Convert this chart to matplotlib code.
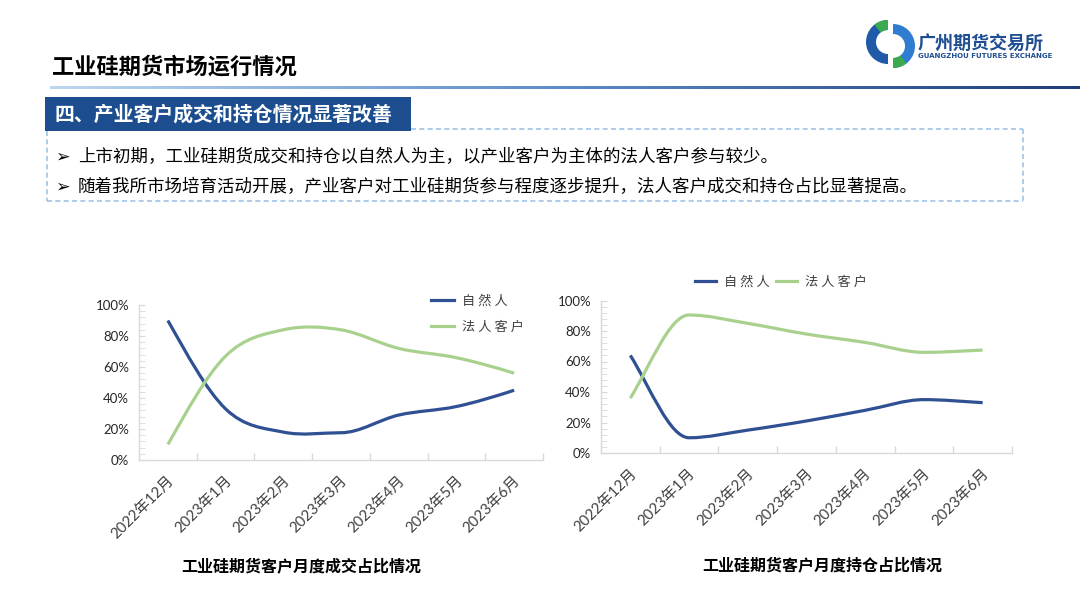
import numpy as np
import matplotlib
matplotlib.use('Agg')
import matplotlib.pyplot as plt
from matplotlib.path import Path
from matplotlib.patches import PathPatch, Rectangle, Wedge
from matplotlib.lines import Line2D
from matplotlib.colors import LinearSegmentedColormap
import matplotlib.transforms as mtransforms

plt.rcParams['font.family'] = ['Noto Sans CJK SC', 'DejaVu Sans']

# ---------------- data ----------------
categories = ['2022年12月', '2023年1月', '2023年2月', '2023年3月',
              '2023年4月', '2023年5月', '2023年6月']
trade_natural = [90, 33, 18, 17.6, 29, 34.5, 45]
trade_institutional = [10, 67, 84, 84, 72, 66, 56]
hold_natural = [64, 10, 15, 21, 28, 35, 33]
hold_institutional = [36, 90.5, 85, 78, 72.5, 66, 67.5]
series_names = ['自 然 人', '法 人 客 户']
yticks = [0, 20, 40, 60, 80, 100]
ytick_labels = ['0%', '20%', '40%', '60%', '80%', '100%']

header_title = '工业硅期货市场运行情况'
section_title = '四、产业客户成交和持仓情况显著改善'
bullets = ['上市初期，工业硅期货成交和持仓以自然人为主，以产业客户为主体的法人客户参与较少。',
           '随着我所市场培育活动开展，产业客户对工业硅期货参与程度逐步提升，法人客户成交和持仓占比显著提高。']
chart_titles = ['工业硅期货客户月度成交占比情况', '工业硅期货客户月度持仓占比情况']
logo_cn = '广州期货交易所'
logo_en = 'GUANGZHOU FUTURES EXCHANGE'

BLUE = '#2F5093'
GREEN = '#A9D18E'
AXIS_GRAY = '#D9D9D9'

W, H = 1080, 604
def fx(x): return x / W
def fy(y): return 1 - y / H

fig = plt.figure(figsize=(10.8, 6.04), dpi=100)


def smooth_path(vals, k=0.5, e=1.15):
    """Smoothed line through the category points (cubic Bezier segments)."""
    y = np.asarray(vals, dtype=float)
    n = len(y)
    d = np.diff(y)
    m = np.zeros(n)
    for i in range(1, n - 1):
        if d[i - 1] * d[i] < 0:
            m[i] = 0.0
        else:
            m[i] = k * (y[i + 1] - y[i - 1])
    m[0] = e * d[0]
    m[-1] = e * d[-1]
    verts = [(0.0, y[0])]
    codes = [Path.MOVETO]
    for i in range(n - 1):
        verts += [(i + 1 / 3, y[i] + m[i] / 3),
                  (i + 2 / 3, y[i + 1] - m[i + 1] / 3),
                  (i + 1.0, y[i + 1])]
        codes += [Path.CURVE4] * 3
    return Path(verts, codes)


def setup_axes(ax):
    ax.set_xlim(-0.5, len(categories) - 0.5)
    ax.set_ylim(0, 100)
    for s in ['top', 'right']:
        ax.spines[s].set_visible(False)
    for s in ['left', 'bottom']:
        ax.spines[s].set_color(AXIS_GRAY)
        ax.spines[s].set_linewidth(1.0)
    ax.set_yticks(yticks)
    ax.set_yticklabels(ytick_labels)
    ax.set_yticks(np.arange(0, 101, 4), minor=True)
    ax.tick_params(axis='y', which='both', direction='in', length=4,
                   color=AXIS_GRAY, pad=7, labelsize=9.5, labelcolor='#262626')
    for lab in ax.get_yticklabels():
        lab.set_fontfamily(['Lato', 'DejaVu Sans'])
    xs = np.arange(len(categories))
    ax.set_xticks(xs)
    ax.set_xticklabels(categories)
    ax.set_xticks(np.arange(0.5, len(categories), 1.0), minor=True)
    ax.tick_params(axis='x', which='major', length=0, pad=13,
                   labelsize=10.8, labelcolor='#404040')
    ax.tick_params(axis='x', which='minor', direction='in', length=5,
                   color=AXIS_GRAY, width=1)
    offset = mtransforms.ScaledTranslation(4 / 100, 0, fig.dpi_scale_trans)
    for lab in ax.get_xticklabels():
        lab.set_rotation(45)
        lab.set_ha('right')
        lab.set_va('center')
        lab.set_rotation_mode('anchor')
        lab.set_fontfamily(['Lato', 'Noto Sans CJK SC'])
        lab.set_transform(lab.get_transform() + offset)


def draw_series(ax, natural, institutional):
    for vals, col in [(natural, BLUE), (institutional, GREEN)]:
        ax.add_patch(PathPatch(smooth_path(vals), fill=False,
                               edgecolor=col, lw=2.3, capstyle='butt'))
    return [Line2D([], [], color=BLUE, lw=2.3), Line2D([], [], color=GREEN, lw=2.3)]


# ---------------- left chart ----------------
ax1 = fig.add_axes([fx(139), fy(460), 404 / W, 155 / H])
setup_axes(ax1)
h = draw_series(ax1, trade_natural, trade_institutional)
ax1.legend(h, series_names, loc='upper left', bbox_to_anchor=(fx(431), fy(295)),
           bbox_transform=fig.transFigure, frameon=False, handlelength=1.75,
           handletextpad=0.6, labelspacing=0.98, fontsize=9.5, borderaxespad=0,
           borderpad=0, labelcolor='#404040')

# ---------------- right chart ----------------
ax2 = fig.add_axes([fx(601), fy(453), 411 / W, 152.5 / H])
setup_axes(ax2)
h = draw_series(ax2, hold_natural, hold_institutional)
ax2.legend(h, series_names, loc='center', bbox_to_anchor=(fx(781), fy(282)),
           bbox_transform=fig.transFigure, frameon=False, handlelength=1.6,
           handletextpad=0.6, columnspacing=0.45, ncol=2, fontsize=9.5,
           borderaxespad=0, borderpad=0, labelcolor='#404040')

# chart titles
fig.text(fx(301), fy(566), chart_titles[0], ha='center', va='center',
         fontsize=11.5, weight='bold', color='#000000')
fig.text(fx(822), fy(565), chart_titles[1], ha='center', va='center',
         fontsize=11.5, weight='bold', color='#000000')

# ---------------- header ----------------
fig.text(fx(52), fy(67), header_title, ha='left', va='center',
         fontsize=16, weight='bold', color='#000000')

gax = fig.add_axes([fx(50), fy(89), 1030 / W, 3.5 / H])
cmap = LinearSegmentedColormap.from_list('g', ['#BDD7EE', '#5B8BC9', '#1F3D7A'])
gax.imshow(np.linspace(0, 1, 256)[None, :], aspect='auto', cmap=cmap)
gax.axis('off')

fig.add_artist(Rectangle((fx(45), fy(131)), 366 / W, 34 / H, transform=fig.transFigure,
                         facecolor='#1C4E8F', edgecolor='none'))
fig.text(fx(55), fy(114), section_title, ha='left', va='center',
         fontsize=14.3, weight='bold', color='white')

dash_kw = dict(color='#9DC3E6', lw=1.2, linestyle=(0, (3, 2)), transform=fig.transFigure)
fig.add_artist(Line2D([fx(411), fx(1023)], [fy(129), fy(129)], **dash_kw))
fig.add_artist(Line2D([fx(1023), fx(1023)], [fy(129), fy(201)], **dash_kw))
fig.add_artist(Line2D([fx(47), fx(1023)], [fy(201), fy(201)], **dash_kw))
fig.add_artist(Line2D([fx(47), fx(47)], [fy(131), fy(201)], **dash_kw))

for yy, txt in zip([157, 187], bullets):
    fig.text(fx(55), fy(yy), '➢', ha='left', va='center', fontsize=12.5,
             family=['DejaVu Sans'], color='#000000')
    fig.text(fx(78), fy(yy), txt, ha='left', va='center', fontsize=12.6,
             color='#000000')

# ---------------- logo ----------------
lax = fig.add_axes([fx(864), fy(72), 52 / W, 56 / H])
lax.set_xlim(0, 52)
lax.set_ylim(0, 56)
lax.axis('off')
lax.add_patch(Wedge((24, 30), 22, 90, 270, width=10, facecolor='#1E5AA8', edgecolor='none'))
lax.add_patch(Wedge((24, 30), 22, 90, 128, width=10, facecolor='#3BAA4E', edgecolor='none'))
lax.add_patch(Wedge((29, 26), 22, -90, 90, width=10, facecolor='#2F7DD0', edgecolor='none'))
lax.add_patch(Wedge((29, 26), 22, -90, -52, width=10, facecolor='#3BAA4E', edgecolor='none'))
fig.text(fx(918), fy(43), logo_cn, ha='left', va='center', fontsize=13,
         weight='bold', color='#1F4E91')
fig.text(fx(918), fy(56), logo_en, ha='left', va='center', fontsize=5,
         weight='bold', color='#1F4E91', family=['DejaVu Sans'])

fig.savefig('out.png', dpi=100)
